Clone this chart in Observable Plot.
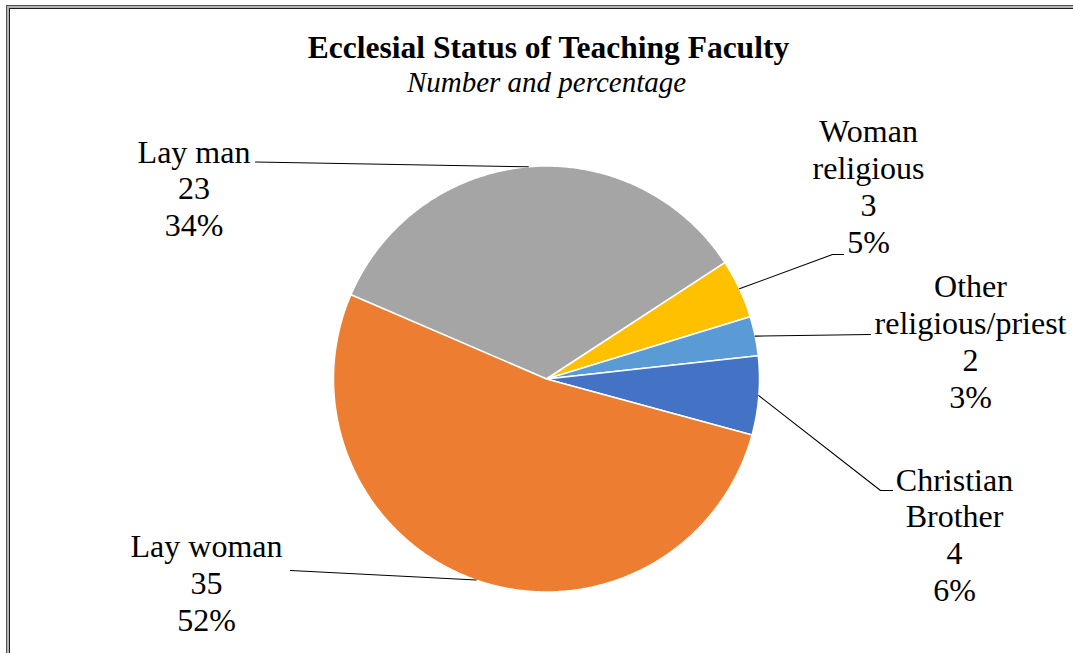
<!DOCTYPE html>
<html>
<head>
<meta charset="utf-8">
<script src="https://cdn.jsdelivr.net/npm/d3@7"></script>
<script src="https://cdn.jsdelivr.net/npm/@observablehq/plot@0.6"></script>
<style>
  html, body { margin: 0; padding: 0; background: #fff; overflow: hidden; }
  #chart { position: relative; width: 1073px; height: 653px; overflow: hidden; }
  /* chart-area frame: thin dark edge, grey band, thin dark inner edge */
  #border { position: absolute; left: 6px; top: 5px; width: 1200px; height: 800px;
            border-left: 1px solid #505050; border-top: 1px solid #505050; }
  #border::before { content: ""; position: absolute; left: 0; top: 0; right: 0; bottom: 0;
            border-left: 2px solid #b4b4b4; border-top: 2px solid #b4b4b4; }
  #border::after { content: ""; position: absolute; left: 2px; top: 2px; right: 0; bottom: 0;
            border-left: 1px solid #1e1e1e; border-top: 1px solid #1e1e1e; }
  #chart svg { position: absolute; left: 0; top: 0; }
</style>
</head>
<body>
<div id="chart"><div id="border"></div></div>
<script>
// Ecclesial status of teaching faculty (number of staff)
const categories = ["Lay man", "Woman religious", "Other religious/priest", "Christian Brother", "Lay woman"];
const labelLines = [["Lay man"], ["Woman", "religious"], ["Other", "religious/priest"], ["Christian", "Brother"], ["Lay woman"]];
const counts = [23, 3, 2, 4, 35];
const percentLabels = ["34%", "5%", "3%", "6%", "52%"];

const titleText = "Ecclesial Status of Teaching Faculty";
const subtitleText = "Number and percentage";

// Styling and layout
const colors = ["#A5A5A5", "#FFC000", "#5B9BD5", "#4472C4", "#ED7D31"];
const W = 1073, H = 653;
const cx = 546, cy = 378.5;          // pie centre in page pixels
const R = 213;                        // pie radius
const firstSliceDeg = 293.3;          // clockwise from 12 o'clock
const fontFamily = "'Liberation Serif', 'Times New Roman', serif";
const labelSize = 32, lineH = 1.15;

// Label blocks: centre x, first-line baseline, and leader bend points (relative to pie centre)
const labelLayout = [
  { x: -352.5, baseline: -216.5, leader: [[-291, -217]] },
  { x: 322,    baseline: -236.8, leader: [[286, -124.5], [297, -124.5]] },
  { x: 424,    baseline: -81.8,  leader: [[324, -44.5]] },
  { x: 408,    baseline: 111.5,  leader: [[334, 111.5], [346, 111.5]] },
  { x: -340,   baseline: 178.2,  leader: [[-256, 191.5]] }
];

const data = categories.map((name, i) => ({ name, count: counts[i] }));
const a0 = firstSliceDeg * Math.PI / 180;
const arcs = d3.pie().sort(null).value(d => d.count).startAngle(a0).endAngle(a0 + 2 * Math.PI)(data);

// polar (clockwise from top) -> x, y with y pointing down
const px = (r, a) => r * Math.sin(a);
const py = (r, a) => -r * Math.cos(a);

// Slice outlines: centre plus points along the arc
const slicePts = arcs.flatMap(a => {
  const steps = Math.max(2, Math.ceil((a.endAngle - a.startAngle) / (Math.PI / 360)));
  const pts = [{ name: a.data.name, x: 0, y: 0 }];
  for (let k = 0; k <= steps; ++k) {
    const t = a.startAngle + (a.endAngle - a.startAngle) * k / steps;
    pts.push({ name: a.data.name, x: px(R, t), y: py(R, t) });
  }
  return pts;
});

// Leader lines from each slice's mid-angle on the rim out to its label
const leaderPts = arcs.flatMap((a, i) => {
  const mid = (a.startAngle + a.endAngle) / 2;
  return [{ name: a.data.name, x: px(R, mid), y: py(R, mid) },
          ...labelLayout[i].leader.map(([x, y]) => ({ name: a.data.name, x, y }))];
});

const labels = arcs.map((a, i) => ({
  x: labelLayout[i].x,
  y: labelLayout[i].baseline - 0.71 * lineH * labelSize,
  text: [...labelLines[i], String(a.data.count), percentLabels[i]].join("\n")
}));

const titles = [
  { x: 2, y: 57.3 - cy, text: titleText },
  { x: 0, y: 91 - cy, text: subtitleText }
];

const chart = Plot.plot({
  width: W,
  height: H,
  margin: 0,
  x: { domain: [-cx, W - cx], range: [0, W], axis: null },
  y: { domain: [-cy, H - cy], range: [0, H], axis: null },
  color: { domain: categories, range: colors },
  style: { background: "transparent", fontFamily },
  marks: [
    Plot.line(slicePts, { x: "x", y: "y", z: "name", fill: "name", stroke: "white", strokeWidth: 1.5, curve: "linear-closed" }),
    Plot.line(leaderPts, { x: "x", y: "y", z: "name", stroke: "black", strokeWidth: 1.1 }),
    Plot.text(labels, { x: "x", y: "y", text: "text", fontSize: labelSize, fontFamily, lineHeight: lineH, lineAnchor: "top", textAnchor: "middle", fill: "black" }),
    Plot.text(titles.slice(0, 1), { x: "x", y: "y", text: "text", fontSize: 31.5, fontWeight: "bold", fontFamily, lineAnchor: "bottom", textAnchor: "middle", fill: "black" }),
    Plot.text(titles.slice(1), { x: "x", y: "y", text: "text", fontSize: 29, fontStyle: "italic", fontFamily, lineAnchor: "bottom", textAnchor: "middle", fill: "black" })
  ]
});
document.getElementById("chart").appendChild(chart);
</script>
</body>
</html>
